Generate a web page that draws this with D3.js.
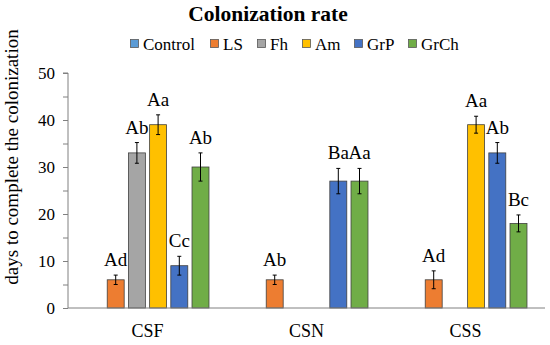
<!DOCTYPE html>
<html><head><meta charset="utf-8">
<script src="https://cdn.jsdelivr.net/npm/d3@7"></script>
<style>
html,body{margin:0;padding:0;background:#fff;}
svg{display:block;}
</style></head>
<body>
<script>
const categories = ["CSF", "CSN", "CSS"];
const seriesNames = ["Control", "LS", "Fh", "Am", "GrP", "GrCh"];
const seriesColors = ["#5B9BD5", "#ED7D31", "#A5A5A5", "#FFC000", "#4472C4", "#70AD47"];
// values per series, per category (null = no bar)
const controlValues = [null, null, null];
const lsValues = [6, 6, 6];
const fhValues = [33, null, null];
const amValues = [39, null, 39];
const grpValues = [9, 27, 33];
const grchValues = [30, 27, 18];
// error bar half-widths
const controlErr = [null, null, null];
const lsErr = [1, 1, 1.9];
const fhErr = [2.2, null, null];
const amErr = [2.1, null, 1.8];
const grpErr = [2, 2.7, 2.2];
const grchErr = [3, 2.7, 1.8];
// significance letters
const controlLbl = [null, null, null];
const lsLbl = ["Ad", "Ab", "Ad"];
const fhLbl = ["Ab", null, null];
const amLbl = ["Aa", null, "Aa"];
const grpLbl = ["Cc", "Ba", "Ab"];
const grchLbl = ["Ab", "Aa", "Bc"];
const yTicks = [0, 10, 20, 30, 40, 50];

const allValues = [controlValues, lsValues, fhValues, amValues, grpValues, grchValues];
const allErr = [controlErr, lsErr, fhErr, amErr, grpErr, grchErr];
const allLbl = [controlLbl, lsLbl, fhLbl, amLbl, grpLbl, grchLbl];

const FONT = "'Liberation Serif', 'Times New Roman', serif";
const W = 550, H = 345;
const m = {left: 68, right: 5, top: 73, bottom: 37};
const svg = d3.select("body").append("svg").attr("width", W).attr("height", H)
  .attr("font-family", FONT);

const x0 = d3.scaleBand().domain(categories).range([m.left, W - m.right]).paddingInner(0.2).paddingOuter(0.1);
const x1 = d3.scaleBand().domain(seriesNames).range([0, x0.bandwidth()]).paddingInner(0.2).paddingOuter(0.1);
const y = d3.scaleLinear().domain([0, 50]).range([H - m.bottom, m.top]);

// title
svg.append("text").attr("x", 268).attr("y", 21).attr("text-anchor", "middle")
  .style("font-family", FONT).style("font-size", "21.5px").style("font-weight", "bold").text("Colonization rate");

// legend
const legendX = [130, 210, 257, 302, 354, 408];
const lg = svg.append("g");
seriesNames.forEach((s, i) => {
  const g = lg.append("g").attr("transform", `translate(${legendX[i]},0)`);
  g.append("rect").attr("x", 0.5).attr("y", 39.5).attr("width", 8).attr("height", 8)
    .attr("fill", seriesColors[i]).attr("stroke", "#595959").attr("stroke-width", 0.8);
  g.append("text").attr("x", 13).attr("y", 49.5).style("font-family", FONT).style("font-size", "17px").text(s);
});

// y axis
const yAxis = d3.axisLeft(y).tickValues(d3.range(0, 51, 5)).tickSize(5).tickFormat(d => yTicks.includes(d) ? d : "");
const ya = svg.append("g").attr("transform", `translate(${m.left},0)`).call(yAxis);
ya.select(".domain").attr("stroke", "#808080").attr("d", `M-5,${y(50)}H0V${y(0)}`);
ya.selectAll(".tick line").attr("stroke", "#808080");
ya.selectAll(".tick text").style("font-size", "17px").style("font-family", FONT).attr("x", -13).attr("dy", "0.35em").attr("fill", "#000");

// y label
svg.append("text").attr("transform", `translate(18,157) rotate(-90)`)
  .attr("text-anchor", "middle").style("font-family", FONT).style("font-size", "19px").text("days to complete the colonization");

// bars
const bars = svg.append("g");
categories.forEach((c, ci) => {
  seriesNames.forEach((s, si) => {
    const v = allValues[si][ci];
    if (v == null) return;
    const bx = x0(c) + x1(s);
    const bw = x1.bandwidth();
    bars.append("rect").attr("x", bx).attr("y", y(v)).attr("width", bw).attr("height", y(0) - y(v))
      .attr("fill", seriesColors[si]).attr("stroke", "#404040").attr("stroke-width", 0.8);
    const e = allErr[si][ci];
    const cx = bx + bw / 2;
    if (e != null) {
      const eg = bars.append("g").attr("stroke", "#000").attr("stroke-width", 1);
      eg.append("line").attr("x1", cx).attr("x2", cx).attr("y1", y(v - e)).attr("y2", y(v + e));
      eg.append("line").attr("x1", cx - 2).attr("x2", cx + 2).attr("y1", y(v - e)).attr("y2", y(v - e));
      eg.append("line").attr("x1", cx - 2).attr("x2", cx + 2).attr("y1", y(v + e)).attr("y2", y(v + e));
    }
    const l = allLbl[si][ci];
    if (l != null) {
      bars.append("text").attr("x", cx).attr("y", y(v + (e || 0)) - 9).attr("text-anchor", "middle")
        .style("font-family", FONT).style("font-size", "19px").text(l);
    }
  });
});

// x axis
const xAxis = d3.axisBottom(x0).tickSize(0);
const xa = svg.append("g").attr("transform", `translate(0,${y(0)})`).call(xAxis);
xa.select(".domain").attr("stroke", "#808080").attr("d", `M${m.left},0H${W - m.right}`);
xa.selectAll(".tick text").style("font-size", "18px").style("font-family", FONT).attr("y", 29).attr("dy", "0").attr("fill", "#000");
</script>
</body></html>
